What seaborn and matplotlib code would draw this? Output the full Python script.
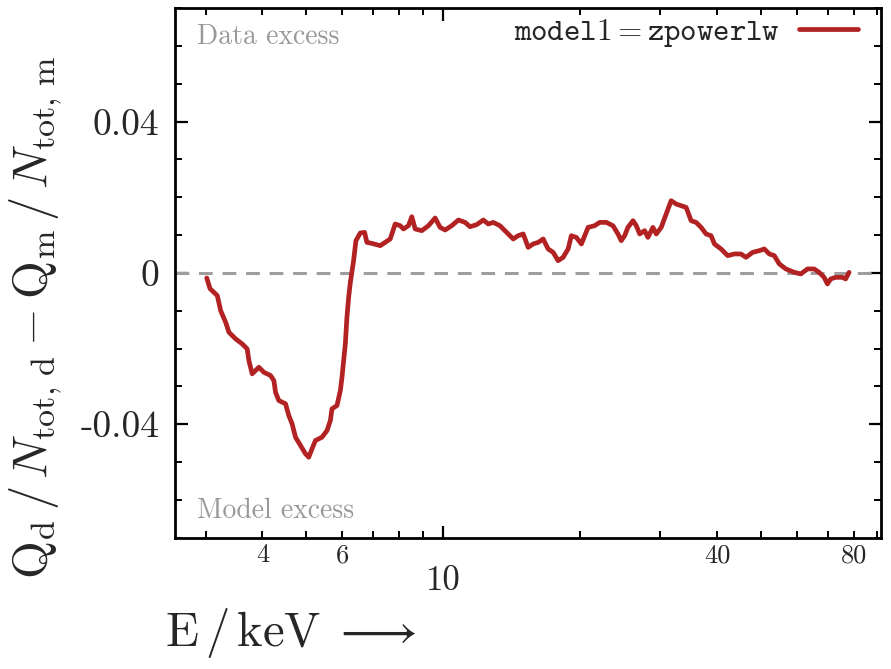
import numpy as np
import pandas as pd
import matplotlib
matplotlib.use('Agg')
import matplotlib.pyplot as plt
import matplotlib.ticker as mticker
import seaborn as sns

# energies in keV and residual values
energy = [3.018, 3.068, 3.184, 3.238, 3.321, 3.377, 3.493, 3.611, 3.703, 3.736,
          3.798, 3.929, 4.029, 4.169, 4.239, 4.275, 4.347, 4.497, 4.572, 4.649,
          4.730, 4.850, 4.975, 5.058, 5.143, 5.232, 5.409, 5.548, 5.643, 5.689,
          5.834, 5.936, 5.984, 6.035, 6.087, 6.136, 6.190, 6.243, 6.347, 6.422,
          6.565, 6.711, 6.788, 6.962, 7.263, 7.448, 7.639, 7.834, 8.035, 8.171,
          8.379, 8.521, 8.668, 8.964, 9.271, 9.590, 9.835, 10.09, 10.43, 10.79,
          11.16, 11.44, 11.83, 12.24, 12.55, 12.87, 13.31, 13.77, 14.24, 14.60,
          14.98, 15.36, 15.75, 16.16, 16.57, 16.99, 17.43, 17.87, 18.33, 18.80,
          19.11, 19.60, 20.11, 20.80, 21.51, 22.06, 22.81, 23.59, 24.20, 24.60,
          25.03, 25.45, 26.11, 26.55, 27.01, 27.70, 28.16, 28.88, 29.37, 30.12,
          30.89, 31.67, 32.48, 33.31, 34.17, 35.04, 35.94, 36.86, 37.80, 38.77,
          39.43, 40.77, 42.17, 43.62, 45.10, 46.25, 47.84, 49.49, 50.76, 52.05,
          53.39, 54.76, 56.62, 59.07, 61.06, 63.16, 65.33, 66.99, 68.71, 69.86,
          71.03, 72.85, 75.36, 76.62, 77.96]
resid = [-0.00132, -0.00414, -0.00599, -0.00995, -0.01304, -0.01568, -0.01742, -0.01874, -0.02006, -0.02315,
         -0.02666, -0.02492, -0.02624, -0.02711, -0.02843, -0.03152, -0.03371, -0.03458, -0.03767, -0.03986,
         -0.04340, -0.04559, -0.04778, -0.04868, -0.04646, -0.04427, -0.04340, -0.04163, -0.03899, -0.03590,
         -0.03503, -0.03107, -0.02756, -0.02315, -0.01874, -0.01172, -0.00644, -0.00248, 0.00325, 0.00853,
         0.01056, 0.01072, 0.00808, 0.00781, 0.00721, 0.00808, 0.00898, 0.01294, 0.01249, 0.01162,
         0.01249, 0.01486, 0.01162, 0.01117, 0.01249, 0.01452, 0.01204, 0.01135, 0.01249, 0.01399,
         0.01336, 0.01222, 0.01275, 0.01399, 0.01294, 0.01336, 0.01249, 0.01072, 0.00898, 0.00985,
         0.01030, 0.00676, 0.00766, 0.00808, 0.00898, 0.00634, 0.00544, 0.00325, 0.00412, 0.00634,
         0.00985, 0.00940, 0.00766, 0.01204, 0.01249, 0.01336, 0.01336, 0.01249, 0.01030, 0.00853,
         0.00985, 0.01204, 0.01381, 0.01249, 0.01030, 0.01117, 0.00940, 0.01204, 0.01030, 0.01204,
         0.01558, 0.01909, 0.01822, 0.01777, 0.01732, 0.01381, 0.01336, 0.01204, 0.01030, 0.00985,
         0.00766, 0.00634, 0.00457, 0.00502, 0.00502, 0.00412, 0.00544, 0.00589, 0.00634, 0.00502,
         0.00457, 0.00238, 0.00106, 0.00016, -0.00026, 0.00106, 0.00106, 0.00016, -0.00116, -0.00290,
         -0.00158, -0.00116, -0.00116, -0.00158, 0.00016]

model_label = r'$\mathtt{model1}=\mathtt{zpowerlw}$'
labeled_minor = [4, 6, 40, 80]

df = pd.DataFrame({'E': energy, 'resid': resid})

sns.set_theme(style='ticks')
plt.rcParams['font.family'] = 'serif'
plt.rcParams['font.serif'] = ['cmr10', 'DejaVu Serif']
plt.rcParams['mathtext.fontset'] = 'cm'
plt.rcParams['axes.unicode_minus'] = False

fig = plt.figure(figsize=(8.91, 6.69), dpi=100)
ax = fig.add_axes([0.196, 0.196, 0.793, 0.792])

ax.axhline(0, color='#9e9e9e', lw=2.2, ls=(0, (4.5, 3.2)), zorder=1)
sns.lineplot(data=df, x='E', y='resid', ax=ax, color='#b22222', lw=3.4,
             estimator=None, sort=False, label=model_label, zorder=3)

ax.set_xscale('log')
ax.set_ylim(-0.07, 0.07)

ax.yaxis.set_major_locator(mticker.MultipleLocator(0.04))
ax.yaxis.set_minor_locator(mticker.MultipleLocator(0.01))
ax.yaxis.set_major_formatter(mticker.FuncFormatter(
    lambda v, p: '0' if abs(v) < 1e-9 else f'{v:.2f}'))

ax.xaxis.set_major_locator(mticker.LogLocator(base=10, numticks=10))
ax.xaxis.set_minor_locator(mticker.LogLocator(base=10, subs=np.arange(2, 10), numticks=10))
ax.xaxis.set_major_formatter(mticker.FuncFormatter(lambda v, p: f'{v:g}'))
ax.xaxis.set_minor_formatter(mticker.FuncFormatter(
    lambda v, p: f'{v:g}' if round(v) in labeled_minor and abs(v - round(v)) < 1e-6 else ''))

ax.tick_params(which='both', direction='in', top=True, right=True, color='black')
ax.tick_params(which='major', length=9, width=1.6)
ax.tick_params(which='minor', length=5, width=1.4)
ax.tick_params(axis='y', which='major', labelsize=27, pad=11)
ax.tick_params(axis='x', which='major', labelsize=25, pad=20)
ax.tick_params(axis='x', which='minor', labelsize=19, pad=4)
for s in ax.spines.values():
    s.set_linewidth(2.0)
    s.set_color('black')

ax.set_ylabel(r'$\mathrm{Q_d}\,/\,N_\mathrm{tot,\,d} - \mathrm{Q_m}\,/\,N_\mathrm{tot,\,m}$', fontsize=35)
ax.yaxis.set_label_coords(-0.196, 0.415)
ax.yaxis.label.set_va('center')
ax.set_xlabel(r'$\mathrm{E}\,/\,\mathrm{keV}\;\longrightarrow$', fontsize=35, loc='left')
ax.xaxis.set_label_coords(-0.014, -0.18)
ax.xaxis.label.set_va('center')

ax.text(0.031, 0.97, 'Data excess', transform=ax.transAxes, fontsize=20,
        color='#999999', ha='left', va='top')
ax.text(0.031, 0.027, 'Model excess', transform=ax.transAxes, fontsize=20,
        color='#999999', ha='left', va='bottom')

ax.legend(loc='upper right', bbox_to_anchor=(0.985, 1.006), frameon=False,
          markerfirst=False, fontsize=22.5, handlelength=1.9, handletextpad=0.6,
          borderaxespad=0.0)

fig.savefig('out.png', dpi=100)
